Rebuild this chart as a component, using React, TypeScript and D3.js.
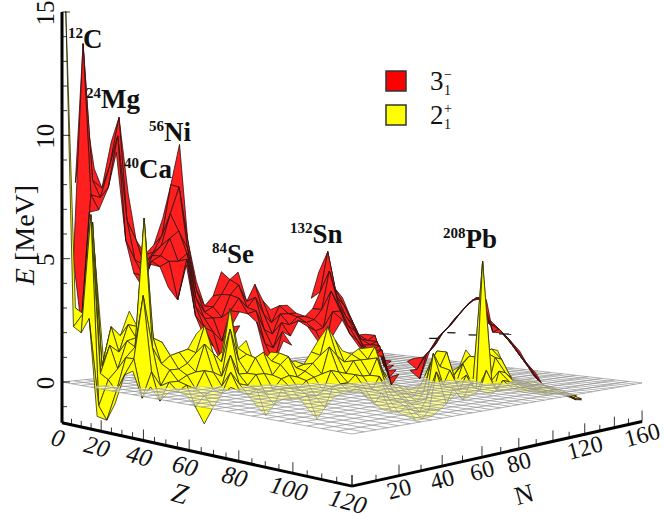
import { useEffect, useRef } from 'react'
import * as d3 from 'd3'

const _ = NaN

// ranks of the even-even mesh: Z + N = 2, 6, 10 ...; first Z of each rank
const rankStartZ = [
  2, 2, 2, 2, 2, 2, 6, 6, 10, 10, 14, 14, 18, 18, 22, 22, 26, 26, 26, 30, 30, 30, 34, 34, 34, 38, 38, 38, 42, 42, 42,
  46, 46, 46, 50, 50, 50, 54, 54, 54, 58, 58, 58, 62, 62, 62, 66, 66, 70, 70, 74, 74, 78, 78, 82, 82, 86, 86, 90, 90,
  94, 94, 98,
]

// 3- energies (MeV), one list per rank, back to front
const red3: number[][] = [
  [],
  [8.1, 5.0],
  [11.2, 13.7, 2.4],
  [8.7, 8.2, 7.6, 6.9],
  [_, 7.9, 7.5, 7.0, _],
  [_, 9.8, 8.8, 7.9, _],
  [_, 10.8, 10.0, 9.3, _],
  [_, 7.7, 6.6, 5.8, _],
  [_, 5.8, 5.0, 4.5, _],
  [5.6, 5.2, 4.8, 4.4, 4.0],
  [5.6, 5.3, 5.2, 5.0, 4.9],
  [6.7, 6.0, 5.6, 5.2, 4.8],
  [8.1, 6.9, 5.9, 5.0, 4.0],
  [9.8, 8.0, 6.2, 5.0, 3.5],
  [5.8, 5.5, 5.3, 5.1, 4.9],
  [4.1, 3.8, 3.5, 3.2, 2.9],
  [3.1, 2.9, 2.7, 2.4, 2.1],
  [3.5, 3.1, 2.7, 2.2, 1.7],
  [4.5, 3.6, 2.7, 1.8, 1.0],
  [4.2, 3.6, 3.0, 2.4, 1.9],
  [4.5, 4.0, 3.5, 3.0, 2.5],
  [_, 3.3, 3.1, 2.9, _],
  [4.0, 3.5, 3.0, 2.6, 2.1],
  [3.3, 2.8, 2.2, 1.7, 1.2],
  [2.9, 2.4, 2.0, 1.5, 1.0],
  [3.1, 2.8, 2.5, 2.2, 1.9],
  [3.1, 2.8, 2.4, 2.0, 1.7],
  [_, 2.8, 2.7, 2.6, _],
  [_, 2.7, 2.5, 2.4, _],
  [3.4, 3.0, 2.6, 2.2, 1.9],
  [4.5, 3.7, 3.0, 2.3, 1.5],
  [5.4, 4.6, 3.8, 3.0, 2.2],
  [3.8, 3.5, 3.2, 3.0, 2.7],
  [3.4, 3.1, 2.7, 2.4, 2.1],
  [2.5, 2.3, 2.1, 1.8, 1.6],
  [1.8, 1.7, 1.5, 1.4, 1.2],
  [1.8, 1.6, 1.5, 1.3, 1.2],
  [1.8, 1.6, 1.5, 1.4, 1.2],
  [0.7, 0.5, 0.4, 0.2, 0.0],
  [0.8, 0.7, 0.6, 0.5, 0.4],
  [],
  [_, 0.7, 0.4, 0.2, _],
  [_, 0.8, 0.4, 0.1, _],
  [_, 0.9, 1.1, 1.3, _],
  [_, 1.2, 1.4, 1.6, _],
  [_, 1.65, 1.85, 2.05, _],
  [_, 2.1, 2.3, 2.5, _],
  [_, 2.45, 2.65, 2.85, _],
  [_, 2.95, 3.15, 3.35, _],
  [_, 3.25, 3.4, 3.55, _],
  [_, 3.5, 3.5, 3.5, _],
  [_, 2.7, 2.4, 2.1, _],
  [_, 2.3, 2.2, 2.1, _],
  [_, 2.0, 1.85, 1.8, _],
  [_, 1.5, 1.4, 1.35, _],
  [_, 1.1, 0.95, 0.85, _],
  [_, 0.55, 0.45, 0.4, _],
  [_, 0.1, 0.0, -0.1, _],
  [_, -0.25, -0.3, -0.35, _],
  [_, -0.35, -0.4, -0.45, _],
  [_, -0.45, -0.5, -0.55, _],
  [_, -0.6, -0.65, -0.7, _],
  [_, -0.7, -0.75, -0.8, _],
]

// 2+ energies (MeV), same layout
const yellow2: number[][] = [
  [15.0],
  [3.0, 2.3],
  [2.6, 2.8, 2.1],
  [5.4, 6.5, 6.8, 2.7],
  [0.8, 0.6, 0.4, -0.8, -1.1],
  [1.2, 2.2, 1.5, 0.2, -1.3],
  [1.8, 1.2, 0.6, -0.2, -0.6],
  [2.8, 2.3, 1.7, 1.1, 0.5],
  [2.2, 1.8, 1.5, 1.1, 0.7],
  [3.6, 4.4, 6.7, 3.6, -0.4],
  [1.4, 1.8, 1.5, 0.6, 0.1],
  [0.9, 1.6, 0.8, 0.0, -0.5],
  [0.5, 1.1, 0.6, 0.2, -0.1],
  [0.7, 1.2, 0.6, 0.2, -0.1],
  [1.3, 0.8, 0.4, 0.1, -0.2],
  [1.9, 1.2, 0.5, -0.1, -0.7],
  [2.3, 1.6, 0.6, -0.3, -1.3],
  [0.8, 1.2, 0.5, -0.1, -0.7],
  [1.1, 0.8, 0.3, 0.0, -0.2],
  [3.0, 2.2, 1.2, 0.6, 0.1],
  [1.3, 0.9, 0.4, 0.1, -0.1],
  [1.6, 1.1, 0.4, 0.0, -0.3],
  [0.6, 1.0, 0.4, -0.1, -0.7],
  [0.7, 1.2, 0.4, -0.3, -1.1],
  [1.1, 0.8, 0.3, -0.2, -0.7],
  [1.1, 0.7, 0.2, -0.1, -0.4],
  [0.6, 1.0, 0.3, -0.1, -0.5],
  [0.7, 0.5, 0.2, -0.2, -0.5],
  [0.6, 0.4, 0.1, -0.4, -0.9],
  [1.1, 0.7, 0.2, -0.5, -1.3],
  [1.6, 1.0, 0.3, -0.3, -0.9],
  [2.2, 1.4, 0.5, -0.1, -0.4],
  [1.6, 1.0, 0.4, 0.0, -0.3],
  [1.1, 0.7, 0.3, 0.0, -0.3],
  [1.0, 0.8, 0.3, -0.1, -0.2],
  [1.2, 0.8, 0.2, -0.2, -0.5],
  [1.2, 0.8, 0.2, -0.3, -0.8],
  [1.3, 0.9, 0.2, -0.4, -1.0],
  [0.3, 0.1, -0.3, -0.7, -1.1],
  [-0.2, -0.3, -0.5, -0.8, -1.2],
  [-0.4, -0.6, -0.8, -1.0, -1.3],
  [-0.5, -0.7, -1.0, -1.2, -1.5],
  [-0.6, -0.8, -1.0, -1.3, -1.5],
  [-0.4, -0.6, -0.8, -1.1, -1.3],
  [0.2, 0.6, 1.1, 0.4, -1.1],
  [0.8, 1.1, 0.5, -0.2, -0.9],
  [0.8, 1.1, 0.4, -0.3, -0.4],
  [0.1, 0.0, -0.2, -0.4, -0.7],
  [0.4, 0.6, 0.2, -0.1, -0.4],
  [1.1, 0.9, -0.3, -0.5, -0.3],
  [0.6, 0.9, 5.1, 0.5, -0.4],
  [0.9, 1.1, -0.2, -0.5, -0.3],
  [1.2, 0.9, 0.4, 0.1, -0.2],
  [1.1, 0.8, 0.3, 0.0, -0.2],
  [0.1, 0.0, -0.1, -0.2, -0.3],
  [-0.1, -0.15, -0.2, -0.25, -0.3],
  [-0.2, -0.25, -0.3, -0.3, -0.35],
  [-0.2, -0.3, -0.35, -0.4, -0.4],
  [-0.3, -0.35, -0.4, -0.4, -0.45],
  [_, -0.4, -0.4, -0.45, _],
  [_, -0.45, -0.5, -0.5, _],
  [_, -0.6, -0.6, -0.65, _],
  [_, -0.7, -0.7, -0.75, _],
]

// short flat pieces of the 3- sheet around lead: Z, N at both ends, then E
const flatBars = [
  [69, 107, 71, 109, 1.75],
  [73, 112, 75, 114, 2.0],
  [77, 119, 80, 122, 1.9],
  [86, 124, 89, 127, 2.0],
]

const zTicks = [0, 20, 40, 60, 80, 100, 120]
const nTicks = [20, 40, 60, 80, 120, 160]
const eTicks = [0, 5, 10, 15]

const labels = [
  { mass: '12', name: 'C', x: 68, y: 48 },
  { mass: '24', name: 'Mg', x: 86, y: 108 },
  { mass: '56', name: 'Ni', x: 149, y: 141 },
  { mass: '40', name: 'Ca', x: 124, y: 178 },
  { mass: '84', name: 'Se', x: 212, y: 263 },
  { mass: '132', name: 'Sn', x: 290, y: 243 },
  { mass: '208', name: 'Pb', x: 443, y: 248 },
]

const FLOOR_E = -1.65
const uScale = d3.scaleLinear().domain([0, 120]).range([0, 1])
const vScale = d3.scaleLinear().domain([0, 160]).range([0, 1])
const hScale = d3.scaleLinear().domain([0, 15]).range([0, 370])

// floor homography from the four corners of the grid
const g = -0.219
const h = 0.276
const corners = { left: [62, 382], front: [352, 434], back: [365, 351] }
const coef = (i: number) => [
  corners.front[i] * (1 + g) - corners.left[i],
  corners.back[i] * (1 + h) - corners.left[i],
  corners.left[i],
]
const cx = coef(0)
const cy = coef(1)

type P = { z: number; n: number; e: number }

function project(z: number, n: number, e: number): [number, number] {
  const u = uScale(z)
  const v = vScale(n)
  const w = 1 + g * u + h * v
  return [(cx[0] * u + cx[1] * v + cx[2]) / w, (cy[0] * u + cy[1] * v + cy[2] - hScale(e)) / w]
}

function buildQuads(values: number[][]) {
  const mesh = new Map<string, number>()
  values.forEach((row, k) => {
    const s = 2 + 4 * k
    row.forEach((e, i) => {
      if (Number.isNaN(e)) return
      const z = rankStartZ[k] + 4 * i
      mesh.set(`${z},${s - z}`, e)
    })
  })
  const quads: P[][] = []
  mesh.forEach((_e, key) => {
    const [z, n] = key.split(',').map(Number)
    const pts = [
      [z, n],
      [z + 4, n],
      [z + 4, n + 4],
      [z, n + 4],
    ].map(([a, b]) => ({ z: a, n: b, e: mesh.get(`${a},${b}`) as number }))
    if (pts.every(p => p.e !== undefined)) quads.push(pts)
  })
  return quads.sort((a, b) => a[0].z - a[0].n - (b[0].z - b[0].n))
}

// keeps the part of a quad on one side of E = 0, with the mesh edges apart from the cut
function clipQuad(quad: P[], above: boolean) {
  const inside = (p: P) => (above ? p.e >= 0 : p.e <= 0)
  const cut = (a: P, b: P): P => {
    const t = a.e / (a.e - b.e)
    return { z: a.z + (b.z - a.z) * t, n: a.n + (b.n - a.n) * t, e: 0 }
  }
  const segments: P[][] = []
  quad.forEach((a, i) => {
    const b = quad[(i + 1) % 4]
    if (inside(a) && inside(b)) segments.push([a, b])
    else if (inside(a)) segments.push([a, cut(a, b)])
    else if (inside(b)) segments.push([cut(a, b), b])
  })
  return segments
}

function drawSide(
  parent: d3.Selection<SVGGElement, unknown, null, undefined>,
  quads: P[][],
  fill: string,
  above: boolean,
) {
  const line = d3.line()
  quads.forEach(quad => {
    const segments = clipQuad(quad, above)
    if (!segments.length) return
    const ring = segments.flat().map(p => project(p.z, p.n, p.e))
    parent.append('path').attr('d', line(ring) + 'Z').attr('fill', fill).attr('stroke', fill).attr('stroke-width', 0.3)
    parent
      .append('path')
      .attr('d', segments.map(s => line(s.map(p => project(p.z, p.n, p.e)))).join(''))
      .attr('fill', 'none')
      .attr('stroke', '#111')
      .attr('stroke-width', 0.7)
  })
}

export default function App() {
  const ref = useRef<SVGSVGElement>(null)

  useEffect(() => {
    const svg = d3.select(ref.current as SVGSVGElement)
    svg.selectAll('*').remove()
    const serif = 'Liberation Serif'
    const line = d3.line()

    const redQuads = buildQuads(red3)
    const yellowQuads = buildQuads(yellow2)

    // parts under the floor
    const under = svg.append('g')
    drawSide(under, redQuads, '#ff1f1f', false)
    drawSide(under, yellowQuads, '#ffff00', false)

    // floor
    const floor = svg.append('g')
    floor
      .append('path')
      .attr('d', line([project(0, 0, 0), project(120, 0, 0), project(120, 160, 0), project(0, 160, 0)]) + 'Z')
      .attr('fill', '#fff')
      .attr('fill-opacity', 0.58)
    d3.range(0, 121, 5).forEach(z => {
      floor.append('path').attr('d', line([project(z, 0, 0), project(z, 160, 0)])).attr('stroke', '#8f8f8f').attr('stroke-width', 0.7)
    })
    d3.range(0, 161, 5).forEach(n => {
      floor.append('path').attr('d', line([project(0, n, 0), project(120, n, 0)])).attr('stroke', '#8f8f8f').attr('stroke-width', 0.7)
    })

    // parts over the floor
    const over = svg.append('g')
    drawSide(over, redQuads, '#ff1f1f', true)
    flatBars.forEach(([z0, n0, z1, n1, e]) => {
      over.append('path').attr('d', line([project(z0, n0, e), project(z1, n1, e)])).attr('stroke', '#111').attr('stroke-width', 1.2)
    })
    drawSide(over, yellowQuads, '#ffff00', true)

    // axes
    const axes = svg.append('g').attr('font-family', serif).attr('fill', '#111')
    const stroke = (pts: [number, number][], w: number) =>
      axes.append('path').attr('d', line(pts)).attr('stroke', '#000').attr('stroke-width', w).attr('fill', 'none')

    stroke([project(0, 0, FLOOR_E), project(0, 0, 15)], 3)
    stroke([project(0, 0, FLOOR_E), project(120, 0, FLOOR_E)], 3)
    stroke([project(120, 0, FLOOR_E), project(120, 160, FLOOR_E)], 3)

    d3.range(-1, 16).forEach(e => {
      const [x, y] = project(0, 0, e)
      stroke([[x, y], [x + (e % 5 === 0 ? 8 : 5), y]], 0.8)
    })
    d3.range(0, 121, 5).forEach(z => {
      const [x, y] = project(z, 0, FLOOR_E)
      stroke([[x, y], [x, y - (z % 20 === 0 ? 11 : 6)]], 0.8)
    })
    d3.range(0, 161, 10).forEach(n => {
      const [x, y] = project(120, n, FLOOR_E)
      stroke([[x, y], [x, y - (n % 20 === 0 ? 11 : 6)]], 0.8)
    })

    eTicks.forEach(e => {
      const [x, y] = project(0, 0, e)
      axes
        .append('text')
        .attr('transform', `translate(${x - 8},${y + 1}) rotate(-90)`)
        .attr('text-anchor', 'middle')
        .attr('font-size', 25)
        .text(e)
    })
    zTicks.forEach(z => {
      const [x, y] = project(z, 0, FLOOR_E)
      axes
        .append('text')
        .attr('transform', `translate(${x - 4},${y + 15}) rotate(15)`)
        .attr('text-anchor', 'middle')
        .attr('dy', '0.35em')
        .attr('font-size', 25)
        .attr('font-style', 'italic')
        .text(z)
    })
    nTicks.forEach(n => {
      const [x, y] = project(120, n, FLOOR_E)
      axes
        .append('text')
        .attr('transform', `translate(${x},${y + 13}) rotate(-15)`)
        .attr('text-anchor', 'middle')
        .attr('dy', '0.35em')
        .attr('font-size', 24)
        .text(n)
    })

    axes
      .append('text')
      .attr('transform', 'translate(180,493) rotate(15)')
      .attr('text-anchor', 'middle')
      .attr('dy', '0.35em')
      .attr('font-size', 28)
      .attr('font-style', 'italic')
      .text('Z')
    axes
      .append('text')
      .attr('transform', 'translate(524,494) rotate(-15)')
      .attr('text-anchor', 'middle')
      .attr('dy', '0.35em')
      .attr('font-size', 26)
      .text('N')
    const eLabel = axes
      .append('text')
      .attr('transform', 'translate(34,235) rotate(-90)')
      .attr('text-anchor', 'middle')
      .attr('font-size', 28)
    eLabel.append('tspan').attr('font-style', 'italic').text('E')
    eLabel.append('tspan').text(' [MeV]')

    // nucleus labels
    const names = svg.append('g').attr('font-family', serif).attr('font-weight', 'bold').attr('fill', '#111')
    labels.forEach(d => {
      const t = names.append('text').attr('x', d.x).attr('y', d.y).attr('font-size', 27)
      t.append('tspan').attr('font-size', 15).attr('dy', -10).text(d.mass)
      t.append('tspan').attr('dy', 10).text(d.name)
    })

    // legend
    const legend = svg.append('g').attr('font-family', serif).attr('fill', '#111')
    const legendRows = [
      { fill: '#ff0000', y: 71, digit: '3', sup: '\u2212' },
      { fill: '#ffff00', y: 105, digit: '2', sup: '+' },
    ]
    legendRows.forEach(r => {
      legend
        .append('rect')
        .attr('x', 386)
        .attr('y', r.y)
        .attr('width', 20)
        .attr('height', 20)
        .attr('fill', r.fill)
        .attr('stroke', '#333')
        .attr('stroke-width', 1.5)
      legend.append('text').attr('x', 430).attr('y', r.y + 19).attr('font-size', 27).text(r.digit)
      legend.append('text').attr('x', 444).attr('y', r.y + 24).attr('font-size', 14).text('1')
      legend.append('text').attr('x', 444).attr('y', r.y + 8).attr('font-size', 14).text(r.sup)
    })
  }, [])

  return <svg ref={ref} width={665} height={518} style={{ position: 'absolute', left: 0, top: 0, background: '#fff' }} />
}
